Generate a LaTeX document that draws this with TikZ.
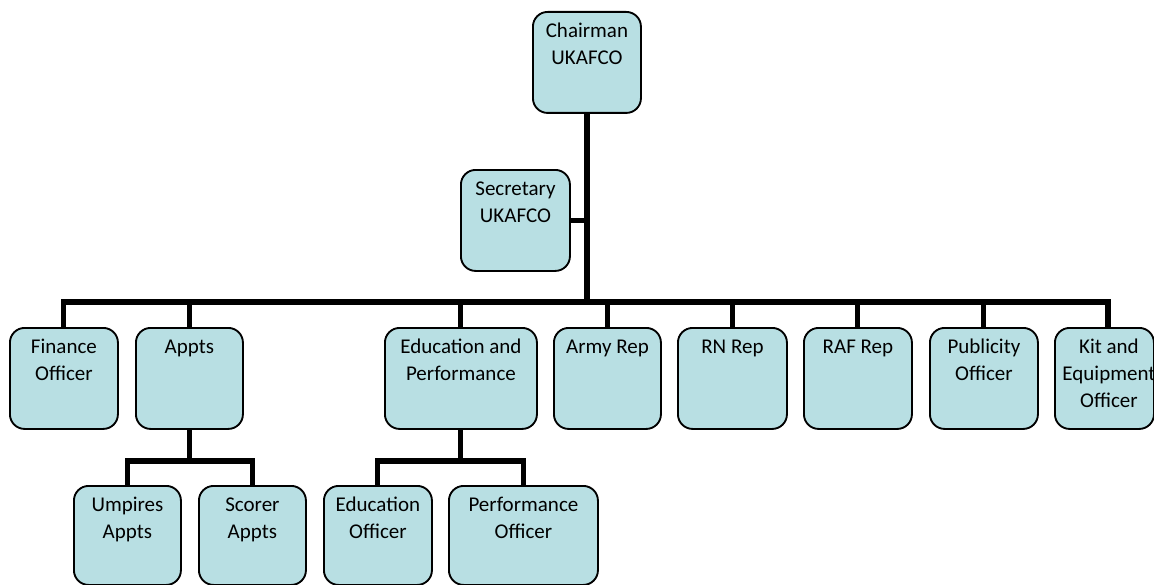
\documentclass[tikz,border=0pt]{standalone}
\usepackage{fontspec}
\setmainfont{Carlito}
\definecolor{boxfill}{RGB}{184,223,227}
\newlength{\pxu}
\setlength{\pxu}{0.75pt}
\newcommand{\bt}[3]{\begin{minipage}[t][#2\pxu][t]{#1\pxu}\centering\fontsize{15.75pt}{20.25pt}\selectfont\rule{0pt}{19.5pt}#3\end{minipage}}
\tikzset{
  orgbox/.style={draw=black, fill=boxfill, rounded corners=11pt, line width=1.4pt, inner sep=0pt, anchor=north west},
  link/.style={draw=black, line width=3.8pt}
}
\begin{document}
\begin{tikzpicture}[x=0.75pt,y=-0.75pt]
\clip (0,0) rectangle (1154,585);
\fill[white] (0,0) rectangle (1154,585);
% boxes
\node[orgbox] (chair) at (532,11) {\bt{108}{101}{Chairman\\UKAFCO}};
\node[orgbox] (sec) at (460,169) {\bt{109}{101}{Secretary\\UKAFCO}};
\node[orgbox] (fin) at (9,327) {\bt{108}{101}{Finance\\Officer}};
\node[orgbox] (appts) at (135,327) {\bt{107}{101}{Appts}};
\node[orgbox] (edp) at (384,327) {\bt{152}{101}{Education and\\Performance}};
\node[orgbox] (army) at (553,327) {\bt{107}{101}{Army Rep}};
\node[orgbox] (rn) at (677,327) {\bt{109}{101}{RN Rep}};
\node[orgbox] (raf) at (803,327) {\bt{108}{101}{RAF Rep}};
\node[orgbox] (pub) at (929,327) {\bt{108}{101}{Publicity\\Officer}};
\node[orgbox] (kit) at (1054,327) {\bt{99}{101}{\hspace*{9\pxu}\makebox[0pt]{Kit and}\\\hspace*{9\pxu}\makebox[0pt]{Equipment}\\\hspace*{9\pxu}\makebox[0pt]{Officer}}};
\node[orgbox] (ump) at (73,485) {\bt{107}{99}{Umpires\\Appts}};
\node[orgbox] (scor) at (198,485) {\bt{107}{99}{Scorer\\Appts}};
\node[orgbox] (eduo) at (323,485) {\bt{108}{99}{Education\\Officer}};
\node[orgbox] (perfo) at (448,485) {\bt{149}{99}{Performance\\Officer}};
% junction coordinates
\coordinate (bar) at (0,302);
\coordinate (kitc) at (1108,327);
\coordinate (subA) at (0,461);
\coordinate (trunk) at (587,0);
% connectors
\draw[link] (chair.south -| trunk) -- (trunk |- bar);
\draw[link] (sec.east) -- (sec.east -| trunk);
\draw[link] (fin.north) -- (fin.north |- bar) -- (kitc |- bar) -- (kitc);
\draw[link] (appts.north) -- (appts.north |- bar);
\draw[link] (edp.north) -- (edp.north |- bar);
\draw[link] (army.north) -- (army.north |- bar);
\draw[link] (rn.north) -- (rn.north |- bar);
\draw[link] (raf.north) -- (raf.north |- bar);
\draw[link] (pub.north) -- (pub.north |- bar);
\draw[link] (appts.south) -- (appts.south |- subA);
\draw[link] (ump.north) -- (ump.north |- subA) -- (scor.north |- subA) -- (scor.north);
\draw[link] (edp.south) -- (edp.south |- subA);
\draw[link] (eduo.north) -- (eduo.north |- subA) -- (perfo.north |- subA) -- (perfo.north);
\end{tikzpicture}
\end{document}
